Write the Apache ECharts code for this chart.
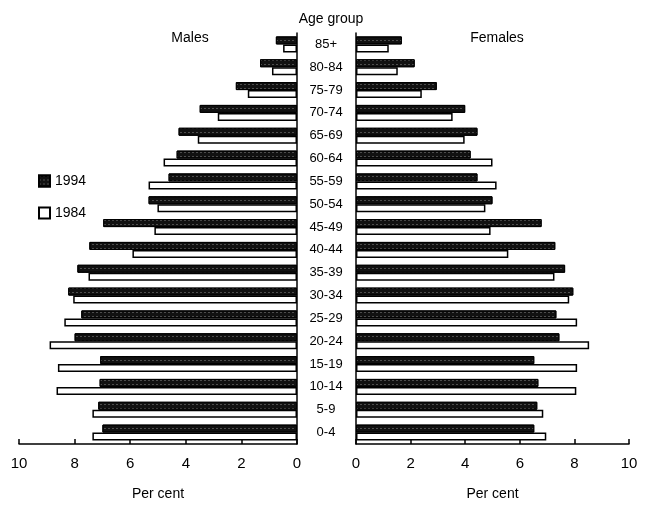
<!DOCTYPE html>
<html><head><meta charset="utf-8">
<script src="https://cdn.jsdelivr.net/npm/echarts@6/dist/echarts.min.js"></script>
<style>html,body{margin:0;padding:0;background:#fff;overflow:hidden}#c{width:650px;height:506px}</style>
</head><body><div id="c"></div>
<script>
var ageGroups = ['0-4','5-9','10-14','15-19','20-24','25-29','30-34','35-39','40-44','45-49','50-54','55-59','60-64','65-69','70-74','75-79','80-84','85+'];
var males1994 = [7.0,7.15,7.1,7.08,8.0,7.76,8.23,7.9,7.47,6.97,5.34,4.62,4.33,4.26,3.5,2.2,1.33,0.76];
var males1984 = [7.36,7.36,8.65,8.6,8.9,8.37,8.05,7.5,5.92,5.13,5.02,5.34,4.8,3.57,2.85,1.77,0.9,0.5];
var females1994 = [6.53,6.64,6.68,6.53,7.45,7.34,7.96,7.66,7.3,6.8,5.0,4.45,4.2,4.45,4.0,2.96,2.15,1.68];
var females1984 = [6.97,6.86,8.07,8.1,8.54,8.1,7.81,7.27,5.58,4.93,4.74,5.15,5.0,3.98,3.54,2.41,1.53,1.2];
var xTicks = [0,2,4,6,8,10];

var font = 'Liberation Sans, Arial, sans-serif';
var darkStyle = {color:'#111', borderColor:'#000', borderWidth:1,
  decal:{symbol:'rect', symbolSize:0.6, color:'#ddd', dashArrayX:[2,2], dashArrayY:[1,3], rotation:0}};
var lightStyle = {color:'#fff', borderColor:'#000', borderWidth:1.5};

var chart = echarts.init(document.getElementById('c'));
function xAxisCfg(idx, inverse){
  return {gridIndex:idx, type:'value', min:0, max:10, interval:2, inverse:inverse,
    axisLine:{show:true, lineStyle:{color:'#000', width:1.5}},
    axisTick:{show:true, inside:true, length:5, lineStyle:{color:'#000', width:1.5}},
    splitLine:{show:false},
    axisLabel:{color:'#000', fontSize:15, fontFamily:font, margin:12,
      formatter:function(v){return xTicks.indexOf(v)>=0 ? String(v) : '';}},
    name:'Per cent', nameLocation:'middle', nameGap:43,
    nameTextStyle:{color:'#000', fontSize:14, fontFamily:font}};
}
chart.setOption({
  animation:false,
  textStyle:{fontFamily:font},
  title:[
    {text:'Age group', left:326, top:7, textAlign:'center', textStyle:{fontSize:14, fontWeight:'normal', color:'#000', fontFamily:font}},
    {text:'Males', left:185, top:26, textAlign:'center', textStyle:{fontSize:14, fontWeight:'normal', color:'#000', fontFamily:font}},
    {text:'Females', left:492, top:26, textAlign:'center', textStyle:{fontSize:14, fontWeight:'normal', color:'#000', fontFamily:font}}
  ],
  legend:{orient:'vertical', left:33, top:169, itemWidth:11, itemHeight:11, itemGap:18, icon:'rect',
    data:['1994','1984'], textStyle:{fontSize:14, color:'#000', fontFamily:font}},
  grid:[
    {left:19, right:353, top:33, bottom:61},
    {left:356, right:21, top:33, bottom:61}
  ],
  xAxis:[xAxisCfg(0,true), xAxisCfg(1,false)],
  yAxis:[
    {gridIndex:0, type:'category', data:ageGroups, position:'right',
      axisLine:{lineStyle:{color:'#000', width:1.5}}, axisTick:{show:false}, axisLabel:{show:false}},
    {gridIndex:1, type:'category', data:ageGroups, position:'left',
      axisLine:{lineStyle:{color:'#000', width:1.5}}, axisTick:{show:false},
      axisLabel:{color:'#000', fontSize:13, fontFamily:font, align:'center', margin:30}}
  ],
  series:[
    {name:'1994', type:'bar', xAxisIndex:0, yAxisIndex:0, data:males1994, barWidth:8, barGap:'0%', itemStyle:darkStyle},
    {name:'1984', type:'bar', xAxisIndex:0, yAxisIndex:0, data:males1984, barWidth:8, barGap:'0%', itemStyle:lightStyle},
    {name:'1994', type:'bar', xAxisIndex:1, yAxisIndex:1, data:females1994, barWidth:8, barGap:'0%', itemStyle:darkStyle},
    {name:'1984', type:'bar', xAxisIndex:1, yAxisIndex:1, data:females1984, barWidth:8, barGap:'0%', itemStyle:lightStyle}
  ]
});
</script></body></html>
